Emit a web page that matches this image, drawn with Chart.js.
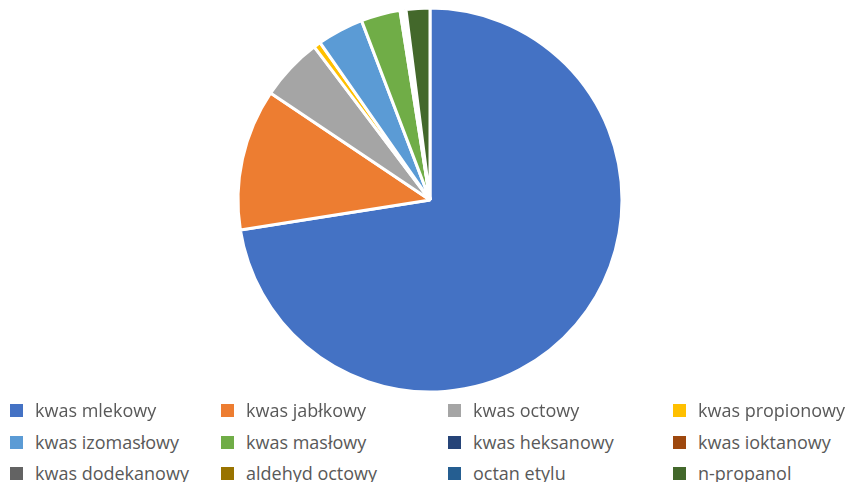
<!DOCTYPE html>
<html>
<head>
<meta charset="utf-8">
<script src="https://cdn.jsdelivr.net/npm/chart.js@4/dist/chart.umd.min.js"></script>
<style>
  body { margin: 0; background: #fff; }
  #wrap { position: relative; width: 849px; height: 482px; overflow: hidden; }
  #pie { position: absolute; left: 0; top: 0; }
  .item { position: absolute; display: flex; align-items: center; white-space: nowrap;
          font-family: "Open Sans", sans-serif; font-size: 18px; color: #595959; }
  .box { width: 13px; height: 13px; margin-right: 12px; }
</style>
</head>
<body>
<div id="wrap">
  <canvas id="pie" width="849" height="400"></canvas>
  <div id="legend"></div>
</div>
<script>
const labels = [
  'kwas mlekowy', 'kwas jabłkowy', 'kwas octowy', 'kwas propionowy',
  'kwas izomasłowy', 'kwas masłowy', 'kwas heksanowy', 'kwas ioktanowy',
  'kwas dodekanowy', 'aldehyd octowy', 'octan etylu', 'n-propanol'
];
const shares = [72.5, 11.9, 5.3, 0.6, 3.9, 3.3, 0.1, 0.1, 0.1, 0.1, 0.1, 2.0];
const colors = [
  '#4472C4', '#ED7D31', '#A5A5A5', '#FFC000',
  '#5B9BD5', '#70AD47', '#264478', '#9E480E',
  '#636363', '#997300', '#255E91', '#43682B'
];

new Chart(document.getElementById('pie'), {
  type: 'pie',
  data: {
    labels: labels,
    datasets: [{
      data: shares,
      backgroundColor: colors,
      borderColor: '#fff',
      borderWidth: 3
    }]
  },
  options: {
    responsive: false,
    animation: false,
    radius: 192,
    layout: { padding: { left: 11 } },
    plugins: {
      legend: { display: false },
      tooltip: { enabled: false }
    }
  }
});

// legend: 4 columns, 3 rows under the pie
const colX = [10, 221, 448, 673];
const rowY = [410, 442, 473];
const legend = document.getElementById('legend');
labels.forEach((name, i) => {
  const el = document.createElement('div');
  el.className = 'item';
  el.style.left = colX[i % 4] + 'px';
  el.style.top = (rowY[Math.floor(i / 4)] - 12) + 'px';
  el.innerHTML = '<span class="box" style="background:' + colors[i] + '"></span>' + name;
  legend.appendChild(el);
});
</script>
</body>
</html>
